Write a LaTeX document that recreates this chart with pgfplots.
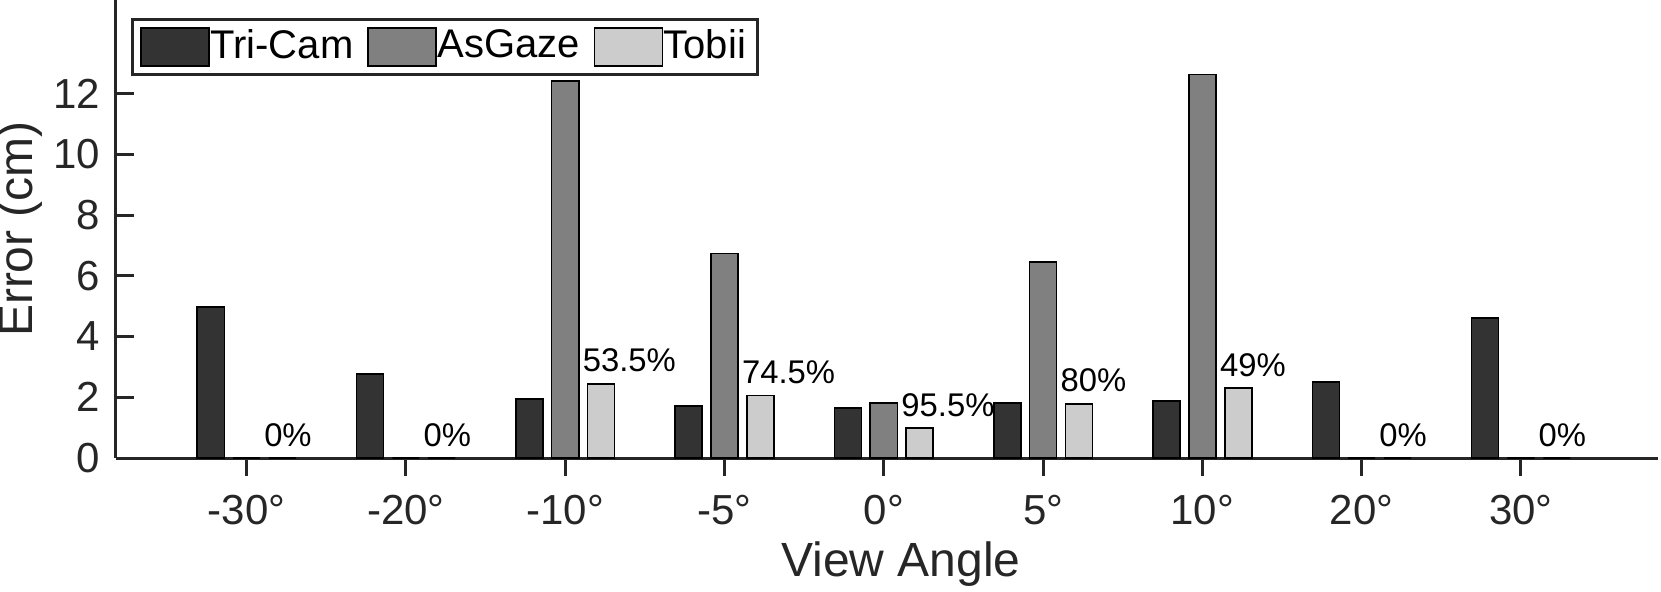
\documentclass[border=0pt]{standalone}
\usepackage{fontspec}
\setmainfont{Liberation Sans}
\usepackage{pgfplots}
\pgfplotsset{compat=1.18}
\definecolor{axisgray}{HTML}{262626}
\definecolor{tricam}{HTML}{333333}
\definecolor{asgaze}{HTML}{808080}
\definecolor{tobii}{HTML}{CCCCCC}

\pgfplotstableread{
x y
1 4.98
2 2.76
3 1.95
4 1.71
5 1.64
6 1.81
7 1.88
8 2.51
9 4.60
}\tricamdata
\pgfplotstableread{
x y
1 0
2 0
3 12.42
4 6.73
5 1.81
6 6.45
7 12.63
8 0
9 0
}\asgazedata
\pgfplotstableread{
x y lab
1 0 0
2 0 0
3 2.44 53.5
4 2.06 74.5
5 0.98 95.5
6 1.78 80
7 2.30 49
8 0 0
9 0 0
}\tobiidata

\begin{document}
\begin{tikzpicture}
\begin{axis}[
  at={(0,0)}, anchor=south west,
  scale only axis, width=385.5pt, height=114.5pt,
  xmin=0.18, xmax=9.86, ymin=0, ymax=15.08,
  axis x line*=bottom, axis y line*=left,
  axis line style={axisgray, line width=0.75pt},
  xtick={1,...,9},
  xticklabels={-30°,-20°,-10°,-5°,0°,5°,10°,20°,30°},
  ytick={0,2,...,12},
  /pgf/number format/assume math mode=true,
  tick align=inside, major tick length=4.5pt,
  tick style={axisgray, line width=0.75pt},
  ticklabel style={font=\fontsize{10.5}{12}\selectfont, text=axisgray},
  xticklabel style={yshift=-1.2pt},
  yticklabel style={xshift=-0.5pt},
  xlabel={View Angle}, ylabel={Error (cm)},
  every axis x label/.style={at={(rel axis cs:0.509,0)}, anchor=center, yshift=-26.4pt,
    font=\fontsize{12}{14}\selectfont, text=axisgray},
  every axis y label/.style={at={(rel axis cs:0,0.5)}, xshift=-24pt, rotate=90, anchor=center,
    font=\fontsize{12}{14}\selectfont, text=axisgray},
  ybar, bar width=0.17,
  legend columns=3,
  legend style={at={(rel axis cs:0.0097,0.961)}, anchor=north west,
    draw=axisgray, line width=0.75pt, inner xsep=2pt, inner ysep=1.5pt,
    font=\fontsize{10}{12}\selectfont,
    nodes={inner xsep=1pt, inner ysep=1pt, text=black},
    /tikz/every odd column/.append style={column sep=-0.9pt},
    /tikz/every even column/.append style={column sep=2.5pt}},
  mylegend/.style={legend image code/.code={\draw[##1, line width=0.4pt] (0pt,-4.75pt) rectangle (17pt,4.75pt);}},
]
\addplot[fill=tricam, draw=black, line width=0.4pt, bar shift=-0.225, mylegend] table[x=x,y=y] {\tricamdata};
\addplot[fill=asgaze, draw=black, line width=0.4pt, bar shift=0, mylegend] table[x=x,y=y] {\asgazedata};
\addplot[fill=tobii, draw=black, line width=0.4pt, bar shift=0.225, mylegend,
  point meta=explicit symbolic,
  nodes near coords={\pgfplotspointmeta\%},
  nodes near coords style={anchor=base west, inner sep=0pt, xshift=-4.75pt, yshift=3pt,
    font=\fontsize{8.2}{9}\selectfont, text=black}]
  table[x=x,y=y,meta=lab] {\tobiidata};
\legend{Tri-Cam, AsGaze, Tobii}
\end{axis}
\pgfresetboundingbox
\path (-29pt,-33.25pt) rectangle (386.25pt,114.5pt);
\end{tikzpicture}
\end{document}
